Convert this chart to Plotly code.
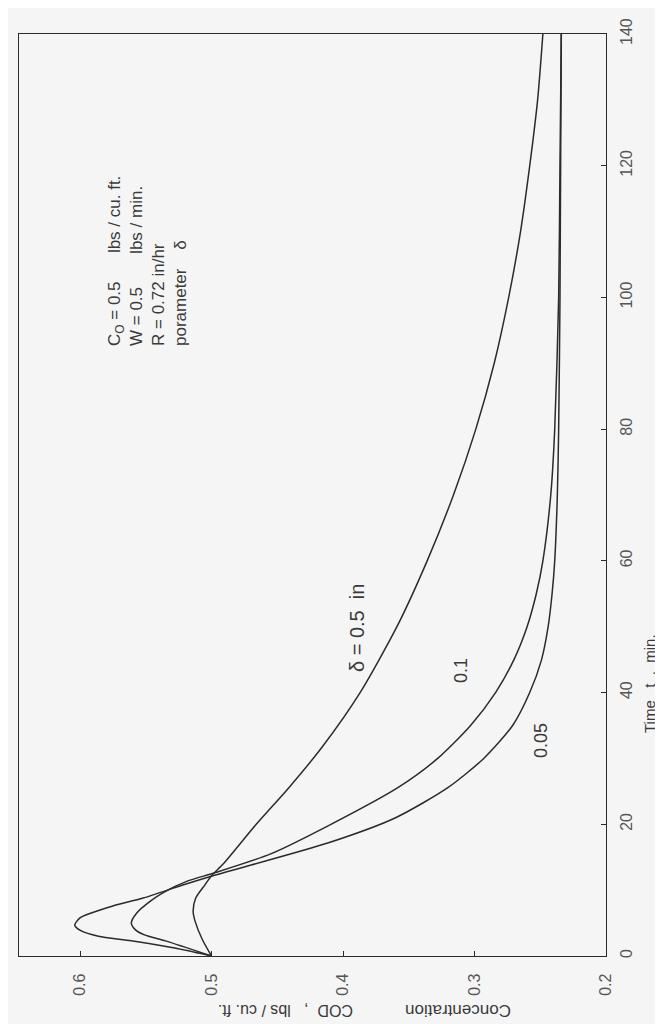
import plotly.graph_objects as go

# ---- data (time in min, concentration in lbs/cu.ft.) ----
t_d05 = [0, 2.5, 5.3, 6.8, 8.8, 10.8, 12.2, 14, 20, 25.6, 31.7, 40, 50, 60, 70, 80, 90, 100, 110, 120, 130, 140]
c_d05 = [0.500, 0.507, 0.5125, 0.514, 0.512, 0.505, 0.500, 0.491, 0.466, 0.441, 0.416, 0.387, 0.359,
         0.336, 0.316, 0.299, 0.285, 0.274, 0.265, 0.258, 0.252, 0.248]

t_d01 = [0, 2.3, 3.2, 4.0, 5.0, 6.5, 8.4, 9.6, 11.4, 12.6, 15.5, 19.8, 25.6, 30, 35, 40, 45, 50, 55, 60,
         70, 80, 100, 120, 140]
c_d01 = [0.500, 0.535, 0.551, 0.558, 0.561, 0.557, 0.546, 0.537, 0.518, 0.498, 0.455, 0.411, 0.358,
         0.328, 0.303, 0.284, 0.270, 0.260, 0.253, 0.248, 0.242, 0.239, 0.236, 0.235, 0.234]

t_d005 = [0, 1.2, 2.3, 3.0, 3.8, 4.7, 5.8, 6.5, 7.6, 8.8, 10.7, 12.3, 17.2, 21, 25.6, 30, 35, 40, 45, 50,
          55, 60, 70, 80, 100, 140]
c_d005 = [0.500, 0.528, 0.561, 0.586, 0.599, 0.604, 0.600, 0.592, 0.575, 0.552, 0.523, 0.497, 0.411,
          0.360, 0.320, 0.293, 0.271, 0.258, 0.249, 0.244, 0.241, 0.239, 0.237, 0.236, 0.235, 0.234]

conc_ticks = [0.2, 0.3, 0.4, 0.5, 0.6]
conc_tick_text = ["0.2", "0.3", "0.4", "0.5", "0.6"]
time_ticks = [0, 20, 40, 60, 80, 100, 120, 140]
time_tick_text = ["0", "20", "40", "60", "80", "100", "120", "140"]

# ---- figure ----
W, H = 663, 1024
L, R, T, B = 11, 65, 26, 76
pw, ph = W - L - R, H - T - B


def px(X, Y):
    """pixel position -> paper coords"""
    return (X - L) / pw, (H - B - Y) / ph


ink = "#2b2b2b"
font_family = "Liberation Sans, Arial, sans-serif"

fig = go.Figure()
for tt, cc in [(t_d05, c_d05), (t_d01, c_d01), (t_d005, c_d005)]:
    fig.add_trace(go.Scatter(x=cc, y=tt, mode="lines",
                             line=dict(color=ink, width=1.5, shape="spline", smoothing=0.7),
                             hoverinfo="skip", showlegend=False))

fig.update_xaxes(range=[0.6464, 0.2], tickvals=conc_ticks, ticktext=conc_tick_text,
                 tickangle=-90, ticks="inside", ticklen=5, tickcolor=ink,
                 showline=True, linecolor=ink, linewidth=1.3, mirror=True,
                 showgrid=False, zeroline=False, ticklabelstandoff=10,
                 tickfont=dict(family=font_family, size=16, color="#555"))
fig.update_yaxes(range=[0, 140], tickvals=time_ticks, ticktext=time_tick_text,
                 side="right", tickangle=-90, ticks="inside", ticklen=5, tickcolor=ink,
                 showline=True, linecolor=ink, linewidth=1.3, mirror=True,
                 showgrid=False, zeroline=False, ticklabelstandoff=6,
                 tickfont=dict(family=font_family, size=16, color="#555"))

annots = []


def add_text(text, X, Y, angle=-90, size=16, align="center", yanchor="middle"):
    xp, yp = px(X, Y)
    annots.append(dict(text=text, x=xp, y=yp, xref="paper", yref="paper",
                       textangle=angle, showarrow=False, align=align,
                       xanchor="center", yanchor=yanchor,
                       font=dict(family=font_family, size=size, color="#3a3a3a")))


nb = "\u00a0"
params = ("C<sub>O</sub> = 0.5" + nb * 6 + "lbs / cu. ft.<br>"
          "W = 0.5" + nb * 7 + "lbs / min.<br>"
          "R = 0.72 in/hr<br>"
          "porameter" + nb * 4 + "\u03b4")
add_text(params, 140, 340, align="left", size=17, yanchor="bottom")
add_text("\u03b4 = 0.5" + nb * 2 + "in", 349, 620, size=20)
add_text("0.1", 453, 663, size=18)
add_text("0.05", 533, 733, size=18)
add_text("Time" + nb * 3 + "t" + nb * 2 + "," + nb * 2 + "min.", 641, 676, size=15)
add_text("Concentration", 450, 1003, angle=180, size=17)
add_text("COD" + nb * 2 + "," + nb * 3 + "lbs / cu. ft.", 278, 1003, angle=180, size=16)

fig.update_layout(width=W, height=H, margin=dict(l=L, r=R, t=T, b=B),
                  paper_bgcolor="#f5f5f5", plot_bgcolor="#f5f5f5",
                  annotations=annots, showlegend=False)

fig.write_html("out.html")
